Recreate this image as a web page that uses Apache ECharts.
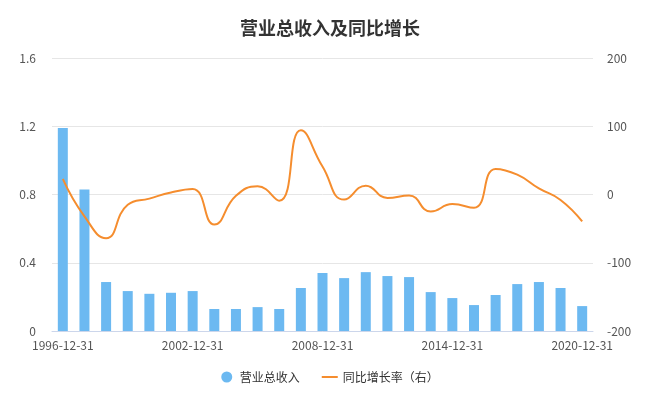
<!DOCTYPE html>
<html><head><meta charset="utf-8">
<script src="https://cdn.jsdelivr.net/npm/echarts@6/dist/echarts.min.js"></script>
<style>html,body{margin:0;padding:0;background:#fff}#c{width:660px;height:396px}</style>
</head><body><div id="c"></div>
<script>
const categories = ['1996-12-31','1997-12-31','1998-12-31','1999-12-31','2000-12-31','2001-12-31','2002-12-31','2003-12-31','2004-12-31','2005-12-31','2006-12-31','2007-12-31','2008-12-31','2009-12-31','2010-12-31','2011-12-31','2012-12-31','2013-12-31','2014-12-31','2015-12-31','2016-12-31','2017-12-31','2018-12-31','2019-12-31','2020-12-31'];
const revenue = [1.19,0.83,0.287,0.234,0.218,0.224,0.234,0.129,0.129,0.14,0.129,0.252,0.34,0.31,0.345,0.322,0.316,0.228,0.193,0.152,0.211,0.275,0.287,0.252,0.146];
const growth = [23,-32,-64,-15,-6,3,8,-44,-2,12,-9,94,41,-7.5,13,-5,-1.5,-25,-14,-19.5,37.5,29,9,-8,-39.5];
const leftTicks = {min:0,max:1.6,interval:0.4};
const rightTicks = {min:-200,max:200,interval:100};
const font = '"Noto Sans CJK SC", "Noto Sans", sans-serif';
const chart = echarts.init(document.getElementById('c'));
chart.setOption({
  animation:false,
  textStyle:{fontFamily:font},
  title:{text:'营业总收入及同比增长',left:'center',top:14,textStyle:{fontSize:18,fontWeight:'bold',color:'#333',fontFamily:font}},
  legend:{bottom:8,itemGap:22,textStyle:{fontSize:12,color:'#333'},
    data:[{name:'营业总收入',icon:'circle'},{name:'同比增长率（右）',icon:'path://M0,0L16,0L16,2L0,2Z'}],itemWidth:16,itemHeight:11},
  grid:{left:52,right:67,top:58,bottom:65},
  xAxis:{type:'category',data:categories,
    axisLine:{lineStyle:{color:'#ccd6eb'}},
    axisTick:{alignWithLabel:true,interval:5,lineStyle:{color:'#ccd6eb'}},
    axisLabel:{interval:5,color:'#555',fontSize:12,margin:8}},
  yAxis:[
    {type:'value',min:leftTicks.min,max:leftTicks.max,interval:leftTicks.interval,
     axisLine:{show:false},axisTick:{show:false},axisLabel:{color:'#555',fontSize:12,margin:16,formatter:v=>String(+v.toFixed(1))},
     splitLine:{lineStyle:{color:'#e6e6e6'}}},
    {type:'value',min:rightTicks.min,max:rightTicks.max,interval:rightTicks.interval,
     axisLine:{show:false},axisTick:{show:false},axisLabel:{color:'#555',fontSize:12,margin:14},
     splitLine:{show:false}}
  ],
  series:[
    {name:'营业总收入',type:'bar',data:revenue,barWidth:10,itemStyle:{color:'#6cb9f1'}},
    {name:'同比增长率（右）',type:'line',yAxisIndex:1,data:growth,smooth:true,showSymbol:false,
     lineStyle:{width:2,color:'#f58d2e'},itemStyle:{color:'#f58d2e'}}
  ]
});
</script></body></html>
